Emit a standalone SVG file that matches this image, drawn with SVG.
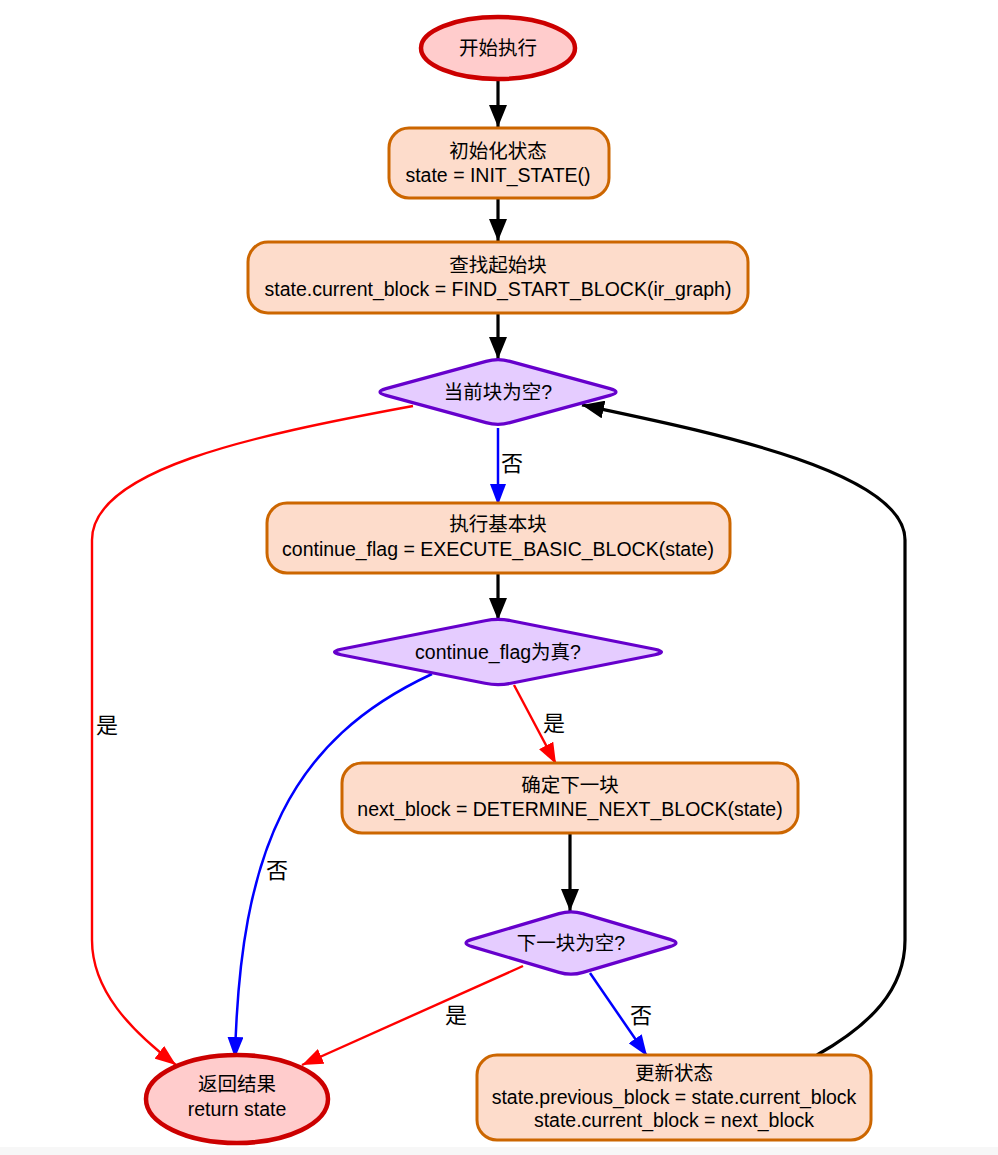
<svg xmlns="http://www.w3.org/2000/svg" width="998" height="1155" viewBox="0 0 998 1155">
<style>
.term{fill:#ffcccc;stroke:#cc0000;stroke-width:4.5}
.proc{fill:#fddccb;stroke:#cc6600;stroke-width:3}
.dec{fill:#e5ccff;stroke:#6600cc;stroke-width:3.2}
.t{font-family:"Liberation Sans","Noto Sans CJK SC",Arial,sans-serif;font-size:19.5px;fill:#000;text-anchor:middle}
.lbl{font-family:"Noto Sans CJK SC",sans-serif;font-size:22px;fill:#000;text-anchor:middle}
.e{fill:none}
.k{stroke:#000;stroke-width:3.2}
.r{stroke:#ff0000;stroke-width:2.4}
.b{stroke:#0000ff;stroke-width:2.5}
</style>
<defs>
<marker id="ak" markerUnits="userSpaceOnUse" markerWidth="23" markerHeight="18" refX="22" refY="9" orient="auto"><path d="M0,0 L22,9 L0,18 Z" fill="#000"/></marker>
<marker id="ar" markerUnits="userSpaceOnUse" markerWidth="22" markerHeight="16" refX="21" refY="8" orient="auto"><path d="M0,0 L21,8 L0,16 Z" fill="#ff0000"/></marker>
<marker id="ab" markerUnits="userSpaceOnUse" markerWidth="22" markerHeight="16" refX="21" refY="8" orient="auto"><path d="M0,0 L21,8 L0,16 Z" fill="#0000ff"/></marker>
</defs>
<rect width="998" height="1155" fill="#fff"/>
<rect y="1147" width="998" height="8" fill="#f7f7f7"/>

<g id="edges">
<path class="e k" d="M498,81 L498,127" marker-end="url(#ak)"/>
<path class="e k" d="M498,199 L498,241" marker-end="url(#ak)"/>
<path class="e k" d="M498,314 L498,359" marker-end="url(#ak)"/>
<path class="e r" d="M413,406 C250,436 92,470 92,540 L92,940 C92,990 130,1030 176,1065" marker-end="url(#ar)"/>
<path class="e b" d="M498,428 L498,505" marker-end="url(#ab)"/>
<path class="e k" d="M498,574 L498,620" marker-end="url(#ak)"/>
<path class="e b" d="M432,674 C290,740 240,850 235,1058" marker-end="url(#ab)"/>
<path class="e r" d="M514,685 L556,764" marker-end="url(#ar)"/>
<path class="e k" d="M570,834 L570,911" marker-end="url(#ak)"/>
<path class="e r" d="M523,966 L302,1065" marker-end="url(#ar)"/>
<path class="e b" d="M590,973 L647,1056" marker-end="url(#ab)"/>
<path class="e k" d="M817,1055 C870,1025 905,990 905,940 L905,540 C905,470 700,430 582,405" marker-end="url(#ak)"/>
<text class="lbl" x="512" y="471">否</text>
<text class="lbl" x="107" y="733">是</text>
<text class="lbl" x="277" y="878">否</text>
<text class="lbl" x="554" y="731">是</text>
<text class="lbl" x="456" y="1023">是</text>
<text class="lbl" x="641" y="1023">否</text>
</g>

<g id="start">
<ellipse class="term" cx="498" cy="48" rx="77" ry="31"/>
<text class="t" x="498" y="55">开始执行</text>
</g>
<g id="init">
<rect class="proc" x="389" y="128" width="220" height="70" rx="20"/>
<text class="t" x="498" y="158">初始化状态</text>
<text class="t" x="498" y="182">state = INIT_STATE()</text>
</g>
<g id="find">
<rect class="proc" x="248" y="242" width="500" height="71" rx="20"/>
<text class="t" x="498" y="272">查找起始块</text>
<text class="t" x="498" y="296">state.current_block = FIND_START_BLOCK(ir_graph)</text>
</g>
<g id="cond1">
<path class="dec" d="M386,388.6 L486,361.4 Q498,358 510,361.4 L610,388.6 Q622,392 610,395.4 L510,422.6 Q498,426 486,422.6 L386,395.4 Q374,392 386,388.6 Z"/>
<text class="t" x="498" y="399">当前块为空?</text>
</g>
<g id="exec">
<rect class="proc" x="267" y="503" width="463" height="70" rx="20"/>
<text class="t" x="498" y="531">执行基本块</text>
<text class="t" x="498" y="556">continue_flag = EXECUTE_BASIC_BLOCK(state)</text>
</g>
<g id="cond2">
<path class="dec" d="M341,649.3 L485,620.7 Q498,618 511,620.7 L655,649.3 Q668,652 655,654.7 L511,683.3 Q498,686 485,683.3 L341,654.7 Q328,652 341,649.3 Z"/>
<text class="t" x="498" y="659">continue_flag为真?</text>
</g>
<g id="determine">
<rect class="proc" x="342" y="763" width="456" height="70" rx="20"/>
<text class="t" x="570" y="792">确定下一块</text>
<text class="t" x="570" y="816">next_block = DETERMINE_NEXT_BLOCK(state)</text>
</g>
<g id="cond3">
<path class="dec" d="M472,939.4 L559,913.6 Q571,910 583,913.6 L670,939.4 Q682,943 670,946.6 L583,972.4 Q571,976 559,972.4 L472,946.6 Q460,943 472,939.4 Z"/>
<text class="t" x="571" y="950">下一块为空?</text>
</g>
<g id="update">
<rect class="proc" x="477" y="1055" width="394" height="85" rx="20"/>
<text class="t" x="674" y="1080">更新状态</text>
<text class="t" x="674" y="1104">state.previous_block = state.current_block</text>
<text class="t" x="674" y="1127">state.current_block = next_block</text>
</g>
<g id="return">
<ellipse class="term" cx="237" cy="1099" rx="91" ry="44"/>
<text class="t" x="237" y="1091">返回结果</text>
<text class="t" x="237" y="1116">return state</text>
</g>
</svg>
